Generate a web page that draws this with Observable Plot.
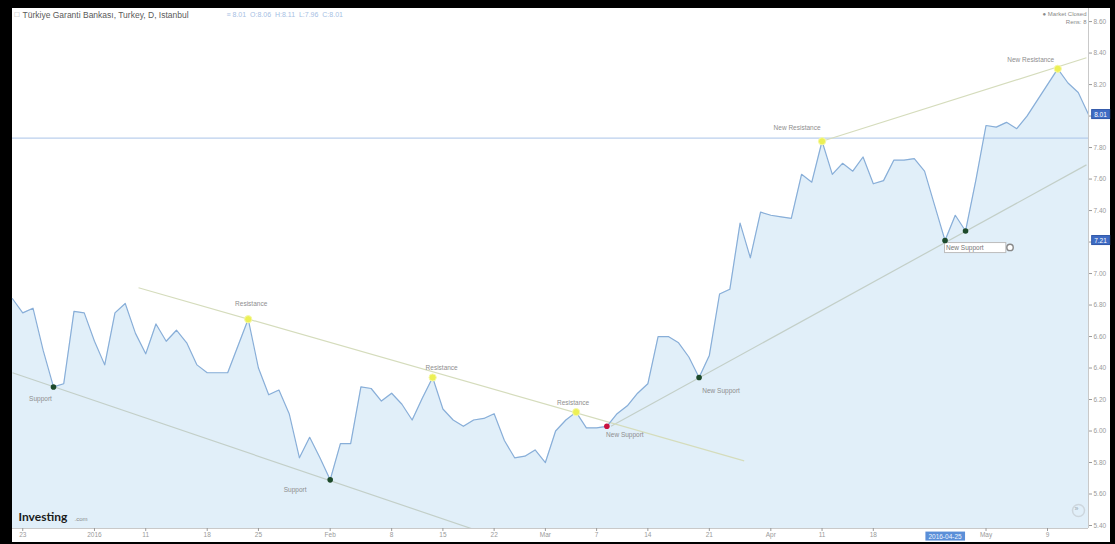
<!DOCTYPE html>
<html><head><meta charset="utf-8">
<script src="https://cdn.jsdelivr.net/npm/d3@7"></script>
<script src="https://cdn.jsdelivr.net/npm/@observablehq/plot@0.6"></script>
<style>
html,body{margin:0;padding:0;background:#000;width:1115px;height:544px;overflow:hidden;}
#chart{position:absolute;left:12px;top:8px;width:1098px;height:534px;background:#fff;}
</style></head><body><div id="chart"></div>
<script>
// Daily closes (one per trading bar)
const closes = [
  6.84, 6.75, 6.78, 6.51, 6.28, 6.30, 6.76, 6.75, 6.57, 6.42,
  6.75, 6.81, 6.62, 6.49, 6.68, 6.57, 6.64, 6.56, 6.42, 6.37,
  6.37, 6.37, 6.54, 6.71, 6.40, 6.23, 6.26, 6.11, 5.83, 5.96,
  5.83, 5.69, 5.92, 5.92, 6.28, 6.27, 6.19, 6.24, 6.17, 6.07,
  6.21, 6.34, 6.14, 6.07, 6.03, 6.07, 6.08, 6.11, 5.94, 5.83,
  5.84, 5.88, 5.80, 6.00, 6.07, 6.12, 6.02, 6.02, 6.03, 6.11,
  6.16, 6.24, 6.30, 6.60, 6.60, 6.56, 6.47, 6.34, 6.48, 6.87,
  6.90, 7.32, 7.10, 7.39, 7.37, 7.36, 7.35, 7.63, 7.58, 7.84,
  7.63, 7.70, 7.65, 7.74, 7.57, 7.59, 7.72, 7.72, 7.73, 7.65,
  7.43, 7.21, 7.37, 7.27, 7.59, 7.94, 7.93, 7.96, 7.92, 8.00,
  8.10, 8.20, 8.30, 8.21, 8.15, 8.01
];
const yTicks = [5.4, 5.6, 5.8, 6.0, 6.2, 6.4, 6.6, 6.8, 7.0, 7.2, 7.4, 7.6, 7.8, 8.0, 8.2, 8.4, 8.6];
const xTickIdx = [1, 8, 13, 19, 24, 31, 37, 42, 47, 52, 57, 62, 68, 74, 79, 84, 95, 101];
const xTickLabels = ["23", "2016", "11", "18", "25", "Feb", "8", "15", "22", "Mar", "7", "14", "21", "Apr", "11", "18", "May", "9"];
const annotations = [
  {i: 4, label: "Support", kind: "support"},
  {i: 31, label: "Support", kind: "support"},
  {i: 23, label: "Resistance", kind: "resistance"},
  {i: 41, label: "Resistance", kind: "resistance"},
  {i: 55, label: "Resistance", kind: "resistance"},
  {i: 58, label: "New Support", kind: "break"},
  {i: 67, label: "New Support", kind: "support"},
  {i: 79, label: "New Resistance", kind: "resistance"},
  {i: 91, label: "New Support", kind: "support"},
  {i: 93, label: "", kind: "support"},
  {i: 102, label: "New Resistance", kind: "resistance"}
];
const trendLines = [
  {kind: "support", i1: 0, v1: 6.37, i2: 44.8, v2: 5.38},
  {kind: "resistance", i1: 12.3, v1: 6.91, i2: 71.4, v2: 5.81},
  {kind: "support", i1: 58.4, v1: 6.03, i2: 104.8, v2: 7.69},
  {kind: "resistance", i1: 79, v1: 7.84, i2: 104.8, v2: 8.37}
];
const levelLine = [7.86];
const crosshair = {i: 91, date: "2016-04-25"};
const titleText = "Türkiye Garanti Bankası, Turkey, D, Istanbul";
const ohlcText = "≡ 8.01  O:8.06  H:8.11  L:7.96  C:8.01";
const statusLines = ["● Market Closed", "Rens: 8"];

// ---- rendering ----
const data = closes.map((v, i) => ({i, v}));
const last = closes.length - 1;
const yDom = [5.381, 8.683];
const tickLabel = new Map(xTickIdx.map((d, k) => [d, xTickLabels[k]]));
const dotColor = {support: "#1d4a2b", resistance: "#ecf055", break: "#c8123e"};
const lineColor = {support: "#c3cfc8", resistance: "#d5dcbc"};
const offsets = {
  4: [-13, 12], 31: [-35, 10], 23: [3, -15], 41: [9, -10], 55: [-3, -9],
  58: [18, 9], 67: [22, 13], 79: [-25, -13], 102: [-27, -9]
};
const gray = "#8e8e8e";
const font = "'Liberation Sans', Arial, sans-serif";
// distinct fills used to find the texts that get a box behind them
const Y_BOX_TXT = "#fefefe", X_BOX_TXT = "#eef4ff", NS_BOX_TXT = "#777777";

const labelMarks = annotations.filter(a => a.label && offsets[a.i]).map(a =>
  Plot.text([a], {x: "i", y: d => closes[d.i], text: "label", dx: offsets[a.i][0], dy: offsets[a.i][1],
    fontSize: 6.5, fill: gray})
);

const chart = Plot.plot({
  width: 1098, height: 534,
  marginLeft: 0, marginRight: 22, marginTop: 0, marginBottom: 14,
  style: {background: "#fff", fontFamily: font, overflow: "visible"},
  x: {type: "linear", domain: [0, last]},
  y: {domain: yDom},
  marks: [
    Plot.areaY(data, {x: "i", y1: yDom[0], y2: "v", fill: "#e1eff9"}),
    Plot.ruleY(levelLine, {stroke: "#a9c3e8", strokeWidth: 1}),
    ...["support", "resistance"].map(k =>
      Plot.link(trendLines.filter(t => t.kind === k), {x1: "i1", y1: "v1", x2: "i2", y2: "v2",
        stroke: lineColor[k], strokeWidth: 1.2, clip: true})),
    Plot.lineY(data, {x: "i", y: "v", stroke: "#88aed8", strokeWidth: 1.2}),
    Plot.ruleY([yDom[0]], {stroke: "#c9c9c9"}),
    Plot.ruleX([last], {stroke: "#c9c9c9"}),
    Plot.axisY({ticks: yTicks, anchor: "right", tickSize: 3, tickPadding: 2, fontSize: 6.5,
      color: "#9a9a9a", tickFormat: d => d.toFixed(2)}),
    Plot.axisX({ticks: xTickIdx, anchor: "bottom", tickSize: 3, tickPadding: 1, fontSize: 6.5,
      color: "#9a9a9a", tickFormat: d => tickLabel.get(d)}),
    ...labelMarks,
    // boxed "New Support" label with handle
    Plot.text(annotations.filter(a => a.i === crosshair.i), {x: "i", y: d => closes[d.i], text: "label",
      textAnchor: "start", dx: 1, dy: 7, fontSize: 6.5, fill: NS_BOX_TXT}),
    Plot.dot(annotations.filter(a => a.i === crosshair.i), {x: "i", y: d => closes[d.i], dx: 65, dy: 7, r: 3.2,
      fill: "#fff", stroke: "#888", strokeWidth: 1.4}),
    ...Object.keys(dotColor).map(k =>
      Plot.dot(annotations.filter(a => a.kind === k), {x: "i", y: d => closes[d.i], r: k === "resistance" ? 3.6 : 2.8,
        fill: dotColor[k], stroke: k === "resistance" ? "#f6f8a8" : "none", strokeWidth: 1})),
    // price boxes on the axes
    Plot.text([closes[last], closes[crosshair.i]], {x: last, y: d => d, text: d => d.toFixed(2), dx: 12,
      fontSize: 6.5, fill: Y_BOX_TXT}),
    Plot.text([crosshair], {x: "i", y: yDom[0], text: "date", dy: 8, fontSize: 6.5, fill: X_BOX_TXT}),
    // header texts
    Plot.text(["□"], {frameAnchor: "top-left", dx: 2, dy: 3, lineAnchor: "top", textAnchor: "start", fontSize: 8, fill: "#aaa"}),
    Plot.text([titleText], {frameAnchor: "top-left", dx: 10, dy: 3, lineAnchor: "top", textAnchor: "start", fontSize: 8.5, fill: "#5a5a5a"}),
    Plot.text([ohlcText], {frameAnchor: "top-left", dx: 214, dy: 4, lineAnchor: "top", textAnchor: "start", fontSize: 7, fill: "#a6c0e4"}),
    Plot.text([statusLines[0]], {frameAnchor: "top-right", dx: -2, dy: 3, lineAnchor: "top", textAnchor: "end", fontSize: 6, fill: "#8a8a8a"}),
    Plot.text([statusLines[1]], {frameAnchor: "top-right", dx: -2, dy: 11, lineAnchor: "top", textAnchor: "end", fontSize: 6, fill: "#8a8a8a"}),
    // logo
    Plot.text(["Investing"], {frameAnchor: "bottom-left", dx: 6, dy: -8, lineAnchor: "bottom", textAnchor: "start",
      fontSize: 12, fontWeight: "bold", fill: "#1b1b1b", fontFamily: "Lato, 'Liberation Sans', sans-serif"}),
    Plot.text([".com"], {frameAnchor: "bottom-left", dx: 62, dy: -8, lineAnchor: "bottom", textAnchor: "start",
      fontSize: 6, fill: "#8a8a8a"}),
    // bottom-right control
    Plot.dot([0], {frameAnchor: "bottom-right", dx: -10, dy: -18, r: 6, fill: "none", stroke: "#cdd6dd"}),
    Plot.text(["»"], {frameAnchor: "bottom-right", dx: -10, dy: -18, fontSize: 7, fill: "#9aa6b0"})
  ]
});
document.getElementById("chart").appendChild(chart);

function boxify(txtFill, fill, stroke, padL, padR, padY) {
  const svgNS = "http://www.w3.org/2000/svg";
  Array.from(chart.querySelectorAll("text")).forEach(t => {
    const f = (t.getAttribute("fill") || (t.parentNode.getAttribute && t.parentNode.getAttribute("fill")) || "").toLowerCase();
    if (f !== txtFill) return;
    const b = t.getBBox();
    const r = document.createElementNS(svgNS, "rect");
    r.setAttribute("x", b.x - padL);
    r.setAttribute("y", b.y - padY);
    r.setAttribute("width", b.width + padL + padR);
    r.setAttribute("height", b.height + 2 * padY);
    r.setAttribute("fill", fill);
    r.setAttribute("stroke", stroke);
    const tr = t.getAttribute("transform");
    if (tr) r.setAttribute("transform", tr);
    t.parentNode.insertBefore(r, t);
  });
}
boxify(Y_BOX_TXT, "#3f6cc4", "#2f57a8", 2.5, 2.5, 1);
boxify(X_BOX_TXT, "#5b8fd8", "none", 3, 3, 1);
boxify(NS_BOX_TXT, "#ffffff", "#bdbdbd", 1.5, 22, 1);
</script></body></html>
